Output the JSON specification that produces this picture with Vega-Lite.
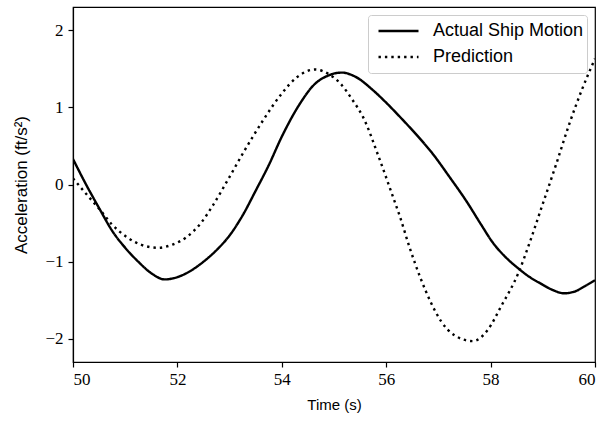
{
  "$schema": "https://vega.github.io/schema/vega-lite/v6.json",
  "width": 522,
  "height": 355,
  "autosize": {"type": "none"},
  "padding": {"left": 73, "top": 7, "right": 8, "bottom": 59},
  "background": "white",
  "config": {
    "view": {"stroke": "black", "strokeWidth": 1.2},
    "axis": {
      "domainColor": "black",
      "tickColor": "black",
      "grid": false,
      "labelColor": "black",
      "titleFontWeight": "normal",
      "titleColor": "black",
      "tickSize": 5,
      "tickWidth": 1.2,
      "domainWidth": 1.2
    }
  },
  "data": {
    "values": [
      {"t": 50.0, "v": 0.33, "s": "Actual Ship Motion"},
      {"t": 50.25, "v": 0.0, "s": "Actual Ship Motion"},
      {"t": 50.52, "v": -0.33, "s": "Actual Ship Motion"},
      {"t": 50.75, "v": -0.6, "s": "Actual Ship Motion"},
      {"t": 51.0, "v": -0.82, "s": "Actual Ship Motion"},
      {"t": 51.25, "v": -1.0, "s": "Actual Ship Motion"},
      {"t": 51.5, "v": -1.15, "s": "Actual Ship Motion"},
      {"t": 51.76, "v": -1.23, "s": "Actual Ship Motion"},
      {"t": 52.0, "v": -1.2, "s": "Actual Ship Motion"},
      {"t": 52.25, "v": -1.12, "s": "Actual Ship Motion"},
      {"t": 52.5, "v": -1.0, "s": "Actual Ship Motion"},
      {"t": 52.75, "v": -0.85, "s": "Actual Ship Motion"},
      {"t": 53.0, "v": -0.66, "s": "Actual Ship Motion"},
      {"t": 53.25, "v": -0.4, "s": "Actual Ship Motion"},
      {"t": 53.5, "v": -0.08, "s": "Actual Ship Motion"},
      {"t": 53.75, "v": 0.25, "s": "Actual Ship Motion"},
      {"t": 54.0, "v": 0.62, "s": "Actual Ship Motion"},
      {"t": 54.35, "v": 1.05, "s": "Actual Ship Motion"},
      {"t": 54.6, "v": 1.28, "s": "Actual Ship Motion"},
      {"t": 54.92, "v": 1.42, "s": "Actual Ship Motion"},
      {"t": 55.15, "v": 1.45, "s": "Actual Ship Motion"},
      {"t": 55.4, "v": 1.4, "s": "Actual Ship Motion"},
      {"t": 55.75, "v": 1.22, "s": "Actual Ship Motion"},
      {"t": 56.0, "v": 1.06, "s": "Actual Ship Motion"},
      {"t": 56.3, "v": 0.85, "s": "Actual Ship Motion"},
      {"t": 56.6, "v": 0.63, "s": "Actual Ship Motion"},
      {"t": 56.9, "v": 0.39, "s": "Actual Ship Motion"},
      {"t": 57.2, "v": 0.11, "s": "Actual Ship Motion"},
      {"t": 57.55, "v": -0.23, "s": "Actual Ship Motion"},
      {"t": 57.8, "v": -0.5, "s": "Actual Ship Motion"},
      {"t": 58.05, "v": -0.76, "s": "Actual Ship Motion"},
      {"t": 58.3, "v": -0.95, "s": "Actual Ship Motion"},
      {"t": 58.5, "v": -1.07, "s": "Actual Ship Motion"},
      {"t": 58.75, "v": -1.2, "s": "Actual Ship Motion"},
      {"t": 58.95, "v": -1.28, "s": "Actual Ship Motion"},
      {"t": 59.2, "v": -1.37, "s": "Actual Ship Motion"},
      {"t": 59.4, "v": -1.41, "s": "Actual Ship Motion"},
      {"t": 59.6, "v": -1.39, "s": "Actual Ship Motion"},
      {"t": 59.8, "v": -1.32, "s": "Actual Ship Motion"},
      {"t": 60.0, "v": -1.24, "s": "Actual Ship Motion"},
      {"t": 50.0, "v": 0.08, "s": "Prediction"},
      {"t": 50.25, "v": -0.12, "s": "Prediction"},
      {"t": 50.52, "v": -0.33, "s": "Prediction"},
      {"t": 50.75, "v": -0.52, "s": "Prediction"},
      {"t": 51.03, "v": -0.68, "s": "Prediction"},
      {"t": 51.3, "v": -0.78, "s": "Prediction"},
      {"t": 51.63, "v": -0.82, "s": "Prediction"},
      {"t": 51.9, "v": -0.78, "s": "Prediction"},
      {"t": 52.18, "v": -0.68, "s": "Prediction"},
      {"t": 52.45, "v": -0.5, "s": "Prediction"},
      {"t": 52.68, "v": -0.27, "s": "Prediction"},
      {"t": 53.0, "v": 0.1, "s": "Prediction"},
      {"t": 53.26, "v": 0.41, "s": "Prediction"},
      {"t": 53.64, "v": 0.83, "s": "Prediction"},
      {"t": 54.0, "v": 1.18, "s": "Prediction"},
      {"t": 54.29, "v": 1.39, "s": "Prediction"},
      {"t": 54.64, "v": 1.49, "s": "Prediction"},
      {"t": 54.9, "v": 1.43, "s": "Prediction"},
      {"t": 55.12, "v": 1.31, "s": "Prediction"},
      {"t": 55.35, "v": 1.1, "s": "Prediction"},
      {"t": 55.56, "v": 0.87, "s": "Prediction"},
      {"t": 55.85, "v": 0.37, "s": "Prediction"},
      {"t": 56.13, "v": -0.16, "s": "Prediction"},
      {"t": 56.26, "v": -0.41, "s": "Prediction"},
      {"t": 56.45, "v": -0.82, "s": "Prediction"},
      {"t": 56.65, "v": -1.2, "s": "Prediction"},
      {"t": 56.85, "v": -1.52, "s": "Prediction"},
      {"t": 57.05, "v": -1.77, "s": "Prediction"},
      {"t": 57.3, "v": -1.95, "s": "Prediction"},
      {"t": 57.66, "v": -2.03, "s": "Prediction"},
      {"t": 57.95, "v": -1.88, "s": "Prediction"},
      {"t": 58.2, "v": -1.58, "s": "Prediction"},
      {"t": 58.53, "v": -1.15, "s": "Prediction"},
      {"t": 58.75, "v": -0.75, "s": "Prediction"},
      {"t": 58.98, "v": -0.29, "s": "Prediction"},
      {"t": 59.25, "v": 0.25, "s": "Prediction"},
      {"t": 59.51, "v": 0.79, "s": "Prediction"},
      {"t": 59.75, "v": 1.23, "s": "Prediction"},
      {"t": 60.0, "v": 1.63, "s": "Prediction"}
    ]
  },
  "mark": {"type": "line", "color": "black", "strokeWidth": 2.4, "strokeCap": "butt", "clip": true, "interpolate": "monotone"},
  "encoding": {
    "x": {
      "field": "t", "type": "quantitative",
      "scale": {"domain": [50, 60], "nice": false, "zero": false},
      "axis": {"values": [50, 52, 54, 56, 58, 60], "title": "Time (s)", "titlePadding": 10, "labelPadding": 4,
        "labelFont": "Liberation Serif", "labelFontSize": 17, "titleFont": "Liberation Sans", "titleFontSize": 15}
    },
    "y": {
      "field": "v", "type": "quantitative",
      "scale": {"domain": [-2.3, 2.3], "nice": false, "zero": false},
      "axis": {"values": [-2, -1, 0, 1, 2], "title": "Acceleration (ft/s²)", "titlePadding": 14, "labelPadding": 5,
        "labelExpr": "replace(datum.label, '-', '−')",
        "labelFont": "Liberation Serif", "labelFontSize": 17, "titleFont": "Liberation Sans", "titleFontSize": 17}
    },
    "strokeDash": {
      "field": "s", "type": "nominal",
      "scale": {"domain": ["Actual Ship Motion", "Prediction"], "range": [[1, 0], [2.4, 4]]},
      "legend": {
        "title": null,
        "orient": "top-right",
        "offset": 8,
        "padding": 3,
        "fillColor": "white",
        "strokeColor": "#cccccc",
        "cornerRadius": 3,
        "symbolType": "stroke",
        "symbolSize": 1600,
        "symbolOffset": 6,
        "symbolStrokeWidth": 2.4,
        "symbolStrokeColor": "black",
        "labelFont": "Liberation Sans",
        "labelFontSize": 18,
        "labelColor": "black",
        "rowPadding": 0,
        "clipHeight": 26,
        "labelOffset": 13
      }
    }
  }
}
